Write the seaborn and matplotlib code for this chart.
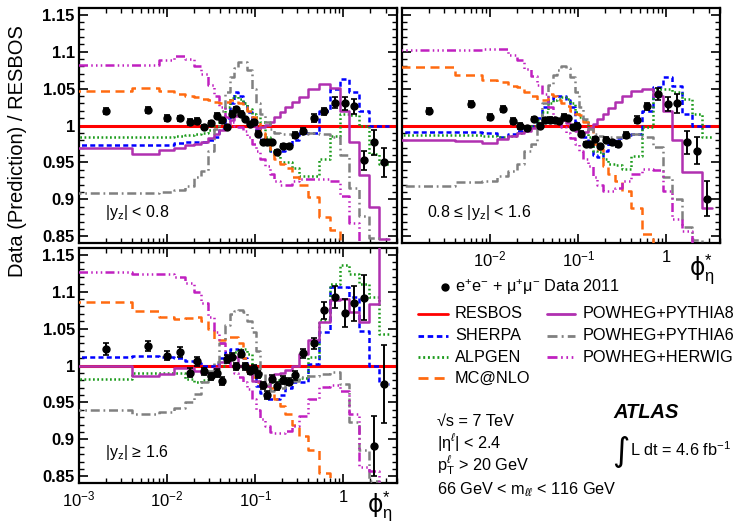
import numpy as np
import matplotlib
matplotlib.use("Agg")
import matplotlib.pyplot as plt
import seaborn as sns
import pandas as pd
from matplotlib.lines import Line2D
from matplotlib.ticker import FixedLocator, FixedFormatter, MultipleLocator, LogLocator, NullFormatter

sns.set_style("ticks")
plt.rcParams['font.family'] = ['Liberation Sans', 'DejaVu Sans']
plt.rcParams['mathtext.fontset'] = 'custom'
plt.rcParams['mathtext.rm'] = 'Liberation Sans'
plt.rcParams['mathtext.it'] = 'Liberation Sans:italic'
plt.rcParams['mathtext.bf'] = 'Liberation Sans:bold'
for k in ['axes.edgecolor', 'xtick.color', 'ytick.color', 'text.color', 'axes.labelcolor']:
    plt.rcParams[k] = 'black'

# ---------------- data ----------------
edges = [0.000, 0.004, 0.008, 0.012, 0.016, 0.020, 0.024, 0.029, 0.034, 0.039, 0.045,
         0.051, 0.057, 0.064, 0.072, 0.081, 0.091, 0.102, 0.114, 0.128, 0.145, 0.165,
         0.189, 0.219, 0.258, 0.312, 0.391, 0.524, 0.695, 0.918, 1.153, 1.496, 1.947,
         2.522, 3.277]

# panel 1: |yz| < 0.8
data_1 = [1.020, 1.021, 1.010, 1.0095, 1.005, 1.006, 0.998, 1.003, 1.0135, 1.007, 0.998,
          1.016, 1.022, 1.016, 1.009, 1.002, 1.0045, 0.989, 0.978, 0.978, 0.978, 0.964,
          0.972, 0.972, 0.987, 0.993, 1.010, 1.019, 1.031, 1.030, 1.026, 0.953, 0.977, 0.950]
err_1 = [0.004, 0.004, 0.004, 0.004, 0.004, 0.004, 0.003, 0.003, 0.003, 0.003, 0.003,
         0.003, 0.003, 0.003, 0.003, 0.003, 0.003, 0.003, 0.003, 0.003, 0.003, 0.003,
         0.003, 0.003, 0.004, 0.004, 0.005, 0.005, 0.007, 0.009, 0.010, 0.013, 0.017, 0.020]
sherpa_1 = [0.974, 0.974, 0.974, 0.976, 0.977, 0.977, 0.978, 0.980, 0.985, 0.995, 1.010,
            1.030, 1.045, 1.040, 1.030, 1.018, 1.005, 0.995, 0.985, 0.975, 0.966, 0.964,
            0.965, 0.972, 0.980, 0.990, 0.990, 1.020, 1.050, 1.063, 1.045, 1.020, 1.000, 1.000]
alpgen_1 = [0.985, 0.985, 0.985, 0.986, 0.987, 0.988, 0.990, 0.994, 1.000, 1.010, 1.025,
            1.037, 1.040, 1.036, 1.030, 1.022, 1.015, 1.012, 1.005, 0.985, 0.966, 0.960,
            0.950, 0.950, 0.942, 0.932, 0.932, 0.955, 0.986, 1.015, 1.014, 1.000, 0.962, 0.948]
mcnlo_1 = [1.047, 1.051, 1.047, 1.042, 1.040, 1.038, 1.036, 1.034, 1.032, 1.031, 1.032,
           1.034, 1.033, 1.030, 1.025, 1.020, 1.012, 1.005, 0.990, 0.975, 0.968, 0.955,
           0.948, 0.942, 0.930, 0.920, 0.903, 0.876, 0.858, 0.820, 0.800, 0.780, 0.760, 0.750]
pythia8_1 = [0.970, 0.962, 0.967, 0.970, 0.974, 0.975, 0.978, 0.983, 0.988, 0.994, 1.000,
             1.007, 1.013, 1.016, 1.010, 1.004, 0.999, 0.997, 0.998, 1.001, 1.005, 1.011,
             1.018, 1.025, 1.032, 1.039, 1.049, 1.056, 1.051, 1.020, 0.977, 0.933, 0.890, 0.846]
pythia6_1 = [0.908, 0.908, 0.910, 0.913, 0.918, 0.930, 0.938, 0.965, 0.995, 1.020, 1.045,
             1.065, 1.078, 1.086, 1.086, 1.075, 1.050, 1.030, 1.015, 1.005, 0.995, 0.990,
             0.988, 0.988, 0.988, 0.988, 0.990, 0.988, 0.985, 0.960, 0.916, 0.878, 0.848, 0.820]
herwig_1 = [1.082, 1.082, 1.088, 1.094, 1.090, 1.080, 1.070, 1.055, 1.040, 1.025, 1.012,
            1.005, 1.000, 0.998, 0.992, 0.984, 0.975, 0.966, 0.955, 0.945, 0.935, 0.925,
            0.920, 0.920, 0.925, 0.928, 0.928, 0.928, 0.925, 0.905, 0.868, 0.820, 0.800, 0.790]

# panel 2: 0.8 <= |yz| < 1.6
data_2 = [1.020, 1.029, 1.011, 1.022, 1.006, 0.999, 0.997, 1.009, 1.000, 1.007, 1.008,
          1.007, 1.006, 1.012, 1.010, 0.998, 1.000, 0.989, 0.975, 0.975, 0.982, 0.972,
          0.981, 0.978, 0.975, 0.987, 1.008, 1.026, 1.043, 1.029, 1.030, 0.977, 0.966, 0.901]
err_2 = [0.004, 0.004, 0.004, 0.004, 0.004, 0.004, 0.003, 0.003, 0.003, 0.003, 0.003,
         0.003, 0.003, 0.003, 0.003, 0.003, 0.003, 0.003, 0.003, 0.003, 0.003, 0.003,
         0.003, 0.003, 0.004, 0.004, 0.005, 0.005, 0.008, 0.010, 0.013, 0.016, 0.018, 0.024]
sherpa_2 = [0.991, 0.991, 0.990, 0.985, 0.988, 0.992, 0.996, 1.000, 1.010, 1.025, 1.034,
            1.038, 1.040, 1.040, 1.035, 1.025, 1.005, 0.991, 0.985, 0.975, 0.960, 0.958,
            0.965, 0.975, 0.983, 0.987, 0.989, 1.020, 1.052, 1.066, 1.054, 1.015, 1.000, 0.999]
alpgen_2 = [0.987, 0.987, 0.986, 0.984, 0.986, 0.990, 0.995, 1.000, 1.008, 1.018, 1.030,
            1.034, 1.036, 1.038, 1.036, 1.030, 1.018, 1.012, 1.007, 0.985, 0.966, 0.964,
            0.955, 0.948, 0.946, 0.941, 0.959, 0.998, 1.050, 1.050, 1.045, 1.036, 1.016, 0.984]
mcnlo_2 = [1.079, 1.068, 1.062, 1.059, 1.053, 1.052, 1.046, 1.040, 1.035, 1.035, 1.042,
           1.040, 1.035, 1.030, 1.027, 1.020, 1.015, 1.014, 1.005, 0.998, 0.975, 0.968,
           0.945, 0.934, 0.925, 0.912, 0.889, 0.853, 0.800, 0.780, 0.770, 0.760, 0.750, 0.750]
pythia8_2 = [0.980, 0.979, 0.976, 0.982, 0.986, 0.990, 0.993, 0.996, 1.000, 1.005, 1.007,
             1.008, 1.008, 1.007, 1.003, 0.998, 0.993, 0.991, 0.991, 0.996, 1.002, 1.009,
             1.016, 1.024, 1.032, 1.040, 1.047, 1.049, 1.040, 1.020, 0.980, 0.937, 0.937, 0.889]
pythia6_2 = [0.918, 0.923, 0.925, 0.932, 0.939, 0.948, 0.965, 0.975, 1.000, 1.030, 1.055,
             1.068, 1.075, 1.081, 1.078, 1.065, 1.045, 1.025, 1.009, 0.995, 0.989, 0.986,
             0.984, 0.984, 0.984, 0.984, 0.988, 0.984, 0.971, 0.930, 0.900, 0.862, 0.845, 0.830]
herwig_2 = [1.102, 1.102, 1.104, 1.104, 1.095, 1.088, 1.077, 1.067, 1.055, 1.043, 1.025,
            1.012, 1.003, 0.998, 0.990, 0.983, 0.975, 0.965, 0.955, 0.945, 0.930, 0.920,
            0.912, 0.912, 0.916, 0.925, 0.934, 0.941, 0.940, 0.912, 0.873, 0.857, 0.830, 0.820]

# panel 3: |yz| >= 1.6
data_3 = [1.022, 1.026, 1.0135, 1.018, 0.990, 1.006, 0.992, 0.9855, 0.990, 0.979, 1.009,
          1.012, 0.999, 1.016, 0.999, 0.993, 0.9955, 0.988, 0.973, 0.960, 0.982, 0.972,
          0.9805, 0.978, 0.9865, 1.0165, 1.030, 1.0745, 1.093, 1.071, 1.084, 1.092, 0.891, 0.975]
err_3 = [0.008, 0.007, 0.006, 0.007, 0.006, 0.006, 0.005, 0.005, 0.005, 0.005, 0.005,
         0.005, 0.005, 0.005, 0.005, 0.005, 0.005, 0.005, 0.005, 0.005, 0.005, 0.005,
         0.005, 0.005, 0.006, 0.006, 0.007, 0.011, 0.015, 0.019, 0.024, 0.030, 0.040, 0.053]
sherpa_3 = [1.011, 1.013, 1.012, 1.010, 1.006, 1.003, 1.000, 1.000, 1.002, 1.010, 1.018,
            1.022, 1.023, 1.020, 1.010, 0.998, 0.985, 0.972, 0.963, 0.955, 0.954, 0.955,
            0.960, 0.970, 0.977, 0.977, 1.002, 1.045, 1.106, 1.106, 1.093, 1.047, 1.000, 0.975]
alpgen_3 = [0.982, 0.990, 0.990, 0.990, 0.982, 0.978, 0.980, 0.988, 0.995, 1.000, 1.008,
            1.015, 1.018, 1.022, 1.022, 1.015, 1.000, 0.985, 0.972, 0.975, 0.978, 0.980,
            0.980, 0.980, 0.980, 0.983, 1.011, 1.061, 1.110, 1.136, 1.124, 1.110, 1.093, 1.043]
mcnlo_3 = [1.086, 1.074, 1.066, 1.063, 1.064, 1.066, 1.060, 1.050, 1.034, 1.034, 1.038,
           1.039, 1.039, 1.030, 1.010, 0.990, 0.985, 0.978, 0.975, 0.972, 0.970, 0.955,
           0.945, 0.934, 0.920, 0.905, 0.885, 0.855, 0.820, 0.820, 0.820, 0.820, 0.820, 0.820]
pythia8_3 = [1.000, 0.986, 0.988, 0.997, 0.997, 0.993, 0.990, 0.990, 0.996, 1.005, 1.010,
             1.012, 1.012, 1.000, 0.999, 0.995, 0.979, 0.979, 0.972, 0.972, 0.986, 0.988,
             0.990, 0.994, 1.000, 1.016, 1.034, 1.059, 1.088, 1.090, 1.072, 1.059, 1.083, 1.250]
pythia6_3 = [0.940, 0.935, 0.937, 0.942, 0.950, 0.962, 0.978, 0.992, 1.005, 1.030, 1.055,
             1.070, 1.074, 1.075, 1.073, 1.060, 1.046, 1.020, 0.990, 0.975, 0.966, 0.968,
             0.970, 0.975, 0.979, 0.984, 0.986, 0.989, 0.991, 0.975, 0.923, 0.885, 0.844, 0.830]
herwig_3 = [1.126, 1.124, 1.124, 1.120, 1.112, 1.100, 1.085, 1.065, 1.045, 1.030, 1.015,
            1.000, 0.990, 0.985, 0.978, 0.968, 0.955, 0.940, 0.928, 0.918, 0.910, 0.908,
            0.908, 0.912, 0.918, 0.932, 0.955, 0.971, 0.973, 0.966, 0.934, 0.862, 0.857, 0.820]

region_labels = [r"|y$_\mathrm{z}$| < 0.8", r"0.8 ≤ |y$_\mathrm{z}$| < 1.6", r"|y$_\mathrm{z}$| ≥ 1.6"]
y_ticks = [0.85, 0.9, 0.95, 1.0, 1.05, 1.1, 1.15]
y_ticklabels = ["0.85", "0.9", "0.95", "1", "1.05", "1.1", "1.15"]
x_ticks = [1e-3, 1e-2, 1e-1, 1.0]
x_ticklabels = [r"$10^{-3}$", r"$10^{-2}$", r"$10^{-1}$", "1"]
x_title = r"ϕ$^{*}_{\mathrm{η}}$"

# ---------------- styles ----------------
styles = {
    "SHERPA": dict(color="#0000ff", dashes=(2.0, 1.3)),
    "ALPGEN": dict(color="#1a9a1a", dashes=(0.7, 1.0)),
    "MC@NLO": dict(color="#ff6a10", dashes=(3.6, 2.2)),
    "POWHEG+PYTHIA8": dict(color="#b030b0", dashes=None),
    "POWHEG+PYTHIA6": dict(color="#808080", dashes=(3.6, 1.5, 0.7, 1.5)),
    "POWHEG+HERWIG": dict(color="#c020c0", dashes=(3.6, 1.3, 0.6, 1.3, 0.6, 1.3, 0.6, 1.3)),
}
LW = 1.8

W, H = 737, 523
fig = plt.figure(figsize=(W / 100, H / 100), dpi=100)


def fx(x):
    return x / W


def fy(y):
    return 1 - y / H


def make_ax(l, t, r, b):
    return fig.add_axes([fx(l), fy(b), fx(r) - fx(l), (b - t) / H])


ax1 = make_ax(79, 8, 397, 243)
ax2 = make_ax(402, 8, 720, 243)
ax3 = make_ax(79, 248, 397, 483)

panels = [
    (ax1, data_1, err_1, [sherpa_1, alpgen_1, mcnlo_1, pythia8_1, pythia6_1, herwig_1]),
    (ax2, data_2, err_2, [sherpa_2, alpgen_2, mcnlo_2, pythia8_2, pythia6_2, herwig_2]),
    (ax3, data_3, err_3, [sherpa_3, alpgen_3, mcnlo_3, pythia8_3, pythia6_3, herwig_3]),
]
names = ["SHERPA", "ALPGEN", "MC@NLO", "POWHEG+PYTHIA8", "POWHEG+PYTHIA6", "POWHEG+HERWIG"]

edges_arr = np.array(edges)
x_edges = np.maximum(edges_arr, 1e-4)
centers = 0.5 * (edges_arr[:-1] + edges_arr[1:])

for ax, dvals, derr, models in panels:
    ax.axhline(1.0, color="#ff0000", lw=2.2, zorder=2)
    for name, vals in zip(names, models):
        st = styles[name]
        df = pd.DataFrame({"x": x_edges, "y": np.append(vals, vals[-1])})
        sns.lineplot(data=df, x="x", y="y", ax=ax, color=st["color"], lw=LW,
                     drawstyle="steps-post", estimator=None, sort=False, zorder=3)
        ln = ax.lines[-1]
        if st["dashes"] is not None:
            ln.set_dashes(st["dashes"])
    ax.errorbar(centers, dvals, yerr=derr, fmt="o", color="black", ms=5,
                elinewidth=1.4, capsize=2, capthick=1.2, zorder=5)
    ax.set_xscale("log")
    ax.set_xlim(1e-3, 4.05)
    ax.set_ylim(0.841, 1.159)
    ax.set_xlabel("")
    ax.set_ylabel("")
    ax.yaxis.set_major_locator(FixedLocator(y_ticks))
    ax.yaxis.set_minor_locator(MultipleLocator(0.01))
    ax.xaxis.set_major_locator(FixedLocator(x_ticks))
    ax.xaxis.set_minor_locator(LogLocator(base=10, subs=np.arange(2, 10)))
    ax.xaxis.set_minor_formatter(NullFormatter())
    ax.tick_params(which="both", direction="in", top=True, right=True, colors="black")
    ax.tick_params(which="major", length=6.5, width=1.2)
    ax.tick_params(which="minor", length=3.3, width=1.0)
    for sp in ax.spines.values():
        sp.set_linewidth(1.6)
        sp.set_color("black")

# tick labels
for ax in (ax1, ax3):
    ax.yaxis.set_major_formatter(FixedFormatter(y_ticklabels))
    for lab in ax.get_yticklabels():
        lab.set_fontsize(12)
        lab.set_fontweight("bold")
    ax.tick_params(axis="y", pad=3)
ax2.set_yticklabels([])
ax1.set_xticklabels([])
ax3.xaxis.set_major_formatter(FixedFormatter(x_ticklabels))
ax2.xaxis.set_major_formatter(FixedFormatter([""] + x_ticklabels[1:]))
for ax in (ax2, ax3):
    for lab in ax.get_xticklabels():
        lab.set_fontsize(12)
    ax.tick_params(axis="x", pad=5)

# region labels
fig.text(fx(105), fy(212), region_labels[0], fontsize=11.5, va="center", ha="left")
fig.text(fx(427), fy(212), region_labels[1], fontsize=11.5, va="center", ha="left")
fig.text(fx(105), fy(452), region_labels[2], fontsize=11.5, va="center", ha="left")

# axis titles
fig.text(fx(18), fy(151), "Data (Prediction) / RESBOS", rotation=90, fontsize=14.5,
         va="center", ha="center")
fig.text(fx(367), fy(507), x_title, fontsize=17, va="center", ha="left", family=["DejaVu Sans"])
fig.text(fx(689), fy(270), x_title, fontsize=17, va="center", ha="left", family=["DejaVu Sans"])

# legend (manual)
LFS = 11.7
fig.add_artist(Line2D([fx(445)], [fy(287)], marker="o", color="black", ms=5,
                      transform=fig.transFigure))
fig.text(fx(455), fy(287), r"e$^{+}$e$^{-}$ + μ$^{+}$μ$^{-}$ Data 2011", fontsize=LFS, va="center")


def leg_line(x1, x2, y, color, dashes, label, xt):
    ln = Line2D([fx(x1), fx(x2)], [fy(y), fy(y)], color=color, lw=LW + 0.2,
                transform=fig.transFigure)
    if dashes is not None:
        ln.set_dashes(dashes)
    fig.add_artist(ln)
    fig.text(fx(xt), fy(y), label, fontsize=LFS, va="center")


leg_line(418, 448, 314, "#ff0000", None, "RESBOS", 455)
col1 = ["SHERPA", "ALPGEN", "MC@NLO"]
for i, n in enumerate(col1):
    leg_line(418, 448, [336, 357, 378][i], styles[n]["color"], styles[n]["dashes"], n, 455)
col2 = ["POWHEG+PYTHIA8", "POWHEG+PYTHIA6", "POWHEG+HERWIG"]
for i, n in enumerate(col2):
    leg_line(547, 575, [314, 336, 357][i], styles[n]["color"], styles[n]["dashes"], n, 583)

# info text
fig.text(fx(437), fy(421), "√s = 7 TeV", fontsize=LFS, va="center")
fig.text(fx(437), fy(443), r"|η$^{\ell}$| < 2.4", fontsize=LFS, va="center")
fig.text(fx(437), fy(466), r"p$_\mathrm{T}^{\ell}$ > 20 GeV", fontsize=LFS, va="center")
fig.text(fx(437), fy(490), r"66 GeV < m$_{\ell\ell}$ < 116 GeV", fontsize=LFS, va="center")
fig.text(fx(613), fy(412), "ATLAS", fontsize=14.5, fontweight="bold", fontstyle="italic",
         va="center")
fig.text(fx(612), fy(452), "∫", fontsize=24, va="center", family=["DejaVu Sans"])
fig.text(fx(630), fy(450), r"L dt = 4.6 fb$^{-1}$", fontsize=LFS, va="center")

fig.savefig("out.png", dpi=100)
